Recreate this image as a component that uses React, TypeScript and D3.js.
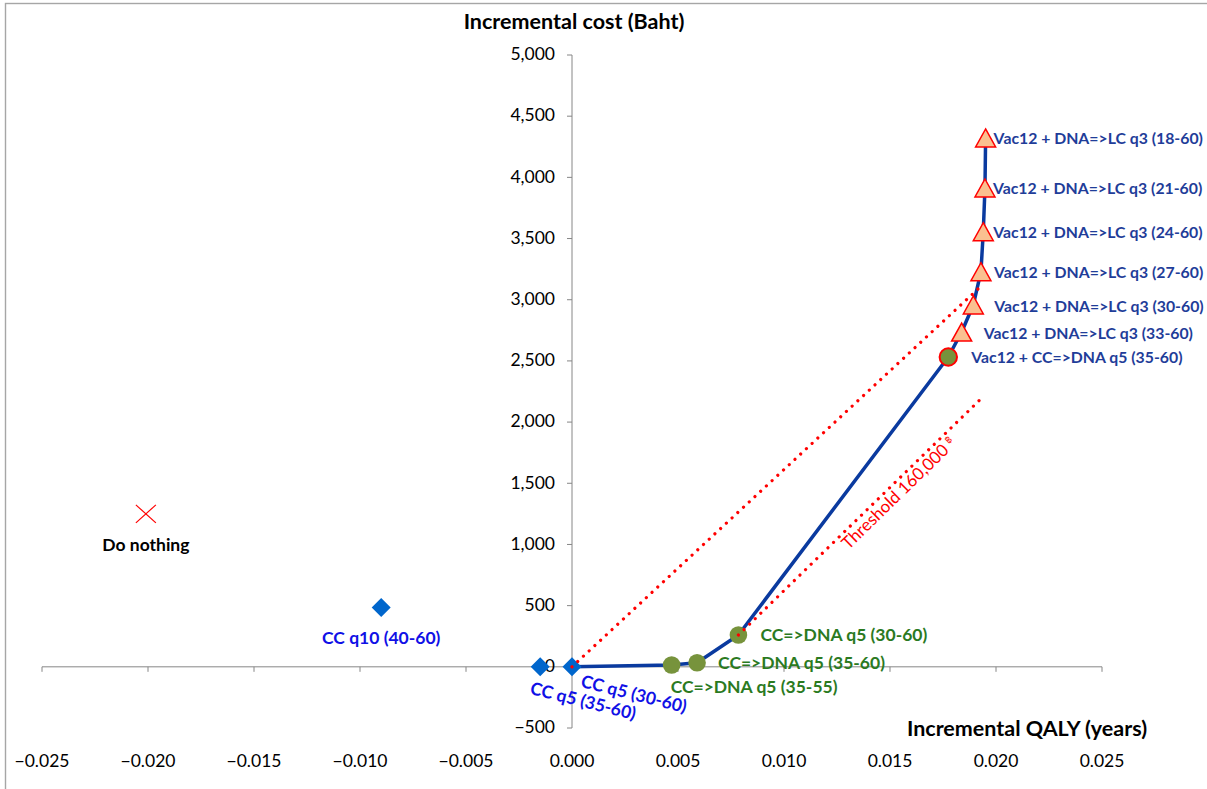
import React from 'react';
import * as d3 from 'd3';

// Cost-effectiveness plane: incremental QALY vs incremental cost (Baht)
const strategies = [
  'Do nothing',
  'CC q10 (40-60)',
  'CC q5 (35-60)',
  'CC q5 (30-60)',
  'CC=>DNA q5 (35-55)',
  'CC=>DNA q5 (35-60)',
  'CC=>DNA q5 (30-60)',
  'Vac12 + CC=>DNA q5 (35-60)',
  'Vac12 + DNA=>LC q3 (33-60)',
  'Vac12 + DNA=>LC q3 (30-60)',
  'Vac12 + DNA=>LC q3 (27-60)',
  'Vac12 + DNA=>LC q3 (24-60)',
  'Vac12 + DNA=>LC q3 (21-60)',
  'Vac12 + DNA=>LC q3 (18-60)',
];
const qaly = [-0.0201, -0.009, -0.0015, 0, 0.0047, 0.0059, 0.00785, 0.01775, 0.01838, 0.01893, 0.01929, 0.0194, 0.01948, 0.01951];
const cost = [1250, 485, 0, 0, 15, 33, 260, 2532, 2736, 2957, 3229, 3556, 3913, 4322];
const group = ['none', 'cc', 'cc', 'cc', 'dna', 'dna', 'dna', 'vacDna', 'vacLc', 'vacLc', 'vacLc', 'vacLc', 'vacLc', 'vacLc'];

// strategies joined by the efficiency frontier, in order
const frontier = [3, 4, 5, 6, 7, 8, 9, 10, 11, 12, 13];

// willingness-to-pay reference lines (160,000 Baht per QALY)
const thresholdStartQaly = [0, 0.00785];
const thresholdStartCost = [0, 260];
const thresholdEndQaly = [0.01925, 0.01933];
const thresholdEndCost = [3104, 2197];
const thresholdText = 'Threshold 160,000';
const currencySymbol = '฿';

const xTickValues = [-0.025, -0.02, -0.015, -0.01, -0.005, 0, 0.005, 0.01, 0.015, 0.02, 0.025];
const yTickValues = [-500, 0, 500, 1000, 1500, 2000, 2500, 3000, 3500, 4000, 4500, 5000];
const xTitle = 'Incremental QALY (years)';
const yTitle = 'Incremental cost (Baht)';

// label placement relative to each marker (px)
const labelLayout = [
  { dx: 0, dy: 31, anchor: 'middle', rot: 0 },
  { dx: 0, dy: 30, anchor: 'middle', rot: 0 },
  { dx: -11, dy: 27, anchor: 'start', rot: 14 },
  { dx: 8, dy: 20, anchor: 'start', rot: 14 },
  { dx: -1, dy: 22, anchor: 'start', rot: 0 },
  { dx: 21, dy: 0, anchor: 'start', rot: 0 },
  { dx: 22, dy: 0, anchor: 'start', rot: 0 },
  { dx: 23, dy: 0, anchor: 'start', rot: 0 },
  { dx: 22, dy: 1, anchor: 'start', rot: 0 },
  { dx: 21, dy: 1, anchor: 'start', rot: 0 },
  { dx: 13, dy: 1, anchor: 'start', rot: 0 },
  { dx: 10, dy: 1, anchor: 'start', rot: 0 },
  { dx: 8, dy: 0, anchor: 'start', rot: 0 },
  { dx: 8, dy: 0, anchor: 'start', rot: 0 },
];

const FONT = "Lato, 'Open Sans', sans-serif";
const W = 1207;
const H = 789;

const labelStyle: Record<string, { color: string; size: number }> = {
  none: { color: '#000000', size: 17.5 },
  cc: { color: '#1010E6', size: 17.5 },
  dna: { color: '#2B7A1F', size: 17.5 },
  vacDna: { color: '#1F3D99', size: 15.8 },
  vacLc: { color: '#1F3D99', size: 15.8 },
};

export default function App() {
  const x = d3.scaleLinear().domain([-0.025, 0.025]).range([42, 1102]);
  const y = d3.scaleLinear().domain([-500, 5000]).range([728, 55]);
  const x0 = x(0);
  const y0 = y(0);
  const fmtX = d3.format('.3f');
  const fmtY = d3.format(',');

  const line = d3
    .line<number>()
    .x((i) => x(qaly[i]))
    .y((i) => y(cost[i]));

  const marker = (i: number) => {
    const cx = x(qaly[i]);
    const cy = y(cost[i]);
    const g = group[i];
    if (g === 'none') {
      return (
        <g key={i} stroke="#FF0000" strokeWidth={1.2}>
          <line x1={cx - 10} y1={cy - 9} x2={cx + 10} y2={cy + 9} />
          <line x1={cx - 10} y1={cy + 9} x2={cx + 10} y2={cy - 9} />
        </g>
      );
    }
    if (g === 'cc') {
      const s = 9.5;
      return (
        <path key={i} d={`M${cx},${cy - s}L${cx + s},${cy}L${cx},${cy + s}L${cx - s},${cy}Z`} fill="#0066CC" />
      );
    }
    if (g === 'dna') {
      return <circle key={i} cx={cx} cy={cy} r={8.8} fill="#77933C" />;
    }
    if (g === 'vacDna') {
      return <circle key={i} cx={cx} cy={cy} r={8.7} fill="#77933C" stroke="#FF0000" strokeWidth={2} />;
    }
    const hw = 10;
    const hh = 9;
    return (
      <path
        key={i}
        d={`M${cx},${cy - hh}L${cx + hw},${cy + hh}L${cx - hw},${cy + hh}Z`}
        fill="#FAC090"
        stroke="#FF0000"
        strokeWidth={1.5}
        strokeLinejoin="miter"
      />
    );
  };

  const label = (i: number) => {
    const cx = x(qaly[i]);
    const cy = y(cost[i]);
    const L = labelLayout[i];
    const st = labelStyle[group[i]];
    if (L.rot) {
      return (
        <text
          key={`l${i}`}
          transform={`translate(${cx + L.dx},${cy + L.dy}) rotate(${L.rot})`}
          textAnchor={L.anchor as any}
          fontSize={st.size}
          fontWeight="bold"
          fill={st.color}
        >
          {strategies[i]}
        </text>
      );
    }
    return (
      <text
        key={`l${i}`}
        x={cx + L.dx}
        y={cy + L.dy}
        dy="0.36em"
        textAnchor={L.anchor as any}
        fontSize={st.size}
        fontWeight="bold"
        fill={st.color}
      >
        {strategies[i]}
      </text>
    );
  };

  // threshold label runs along the lower reference line
  const tx0 = x(thresholdStartQaly[1]);
  const ty0 = y(thresholdStartCost[1]);
  const tx1 = x(thresholdEndQaly[1]);
  const ty1 = y(thresholdEndCost[1]);
  const tAngle = (Math.atan2(ty1 - ty0, tx1 - tx0) * 180) / Math.PI;

  return (
    <svg
      width={W}
      height={H}
      style={{ position: 'absolute', left: 0, top: 0, background: '#fff' }}
      fontFamily={FONT}
    >
      <rect x={0} y={0} width={W} height={H} fill="#fff" />
      <rect x={5.5} y={3.5} width={W + 20} height={H + 20} fill="none" stroke="#A6A6A6" strokeWidth={1.4} />

      {/* x axis */}
      <g stroke="#868686" strokeWidth={1}>
        <line x1={x(-0.025)} x2={x(0.025)} y1={y0} y2={y0} />
        {xTickValues.map((v) => (
          <line key={v} x1={x(v)} x2={x(v)} y1={y0} y2={y0 + 5} />
        ))}
      </g>
      {xTickValues.map((v) => (
        <text key={`xt${v}`} x={x(v)} y={767} textAnchor="middle" fontSize={17.5} fill="#000">
          {fmtX(v)}
        </text>
      ))}

      {/* y axis */}
      <g stroke="#868686" strokeWidth={1}>
        <line x1={x0} x2={x0} y1={y(5000)} y2={y(-500)} />
        {yTickValues.map((v) => (
          <line key={v} x1={x0 - 5} x2={x0} y1={y(v)} y2={y(v)} />
        ))}
      </g>
      {yTickValues.map((v) => (
        <text key={`yt${v}`} x={555} y={y(v) - 1} dy="0.36em" textAnchor="end" fontSize={17.5} fill="#000">
          {fmtY(v)}
        </text>
      ))}

      <text x={574} y={29} textAnchor="middle" fontSize={21.5} fontWeight="bold" fill="#000">
        {yTitle}
      </text>
      <text x={1027} y={736} textAnchor="middle" fontSize={21.5} fontWeight="bold" fill="#000">
        {xTitle}
      </text>

      {/* efficiency frontier */}
      <path d={line(frontier) || ''} fill="none" stroke="#0A3A9F" strokeWidth={3.5} strokeLinejoin="round" />

      {strategies.map((_, i) => marker(i))}

      {/* threshold reference lines */}
      {thresholdStartQaly.map((q, k) => (
        <line
          key={`th${k}`}
          x1={x(q)}
          y1={y(thresholdStartCost[k])}
          x2={x(thresholdEndQaly[k])}
          y2={y(thresholdEndCost[k])}
          stroke="#FF0000"
          strokeWidth={3.2}
          strokeDasharray="0.01 7.8"
          strokeLinecap="round"
        />
      ))}

      <text
        transform={`translate(${tx0},${ty0}) rotate(${tAngle})`}
        x={138}
        y={16}
        fontSize={17}
        fill="#FF0000"
      >
        {thresholdText}
        <tspan fontSize={9} dx={4} dy={-6}>
          {currencySymbol}
        </tspan>
      </text>

      {strategies.map((_, i) => label(i))}
    </svg>
  );
}
